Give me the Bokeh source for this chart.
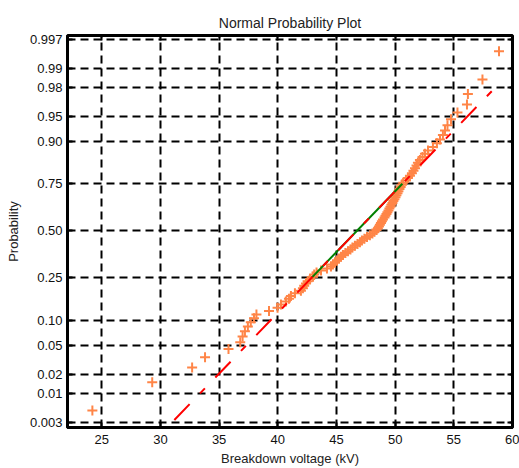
from statistics import NormalDist
import numpy as np
from bokeh.plotting import figure
from bokeh.models import Range1d, FixedTicker, LinearAxis
from bokeh.embed import file_html
from bokeh.resources import INLINE

# Sorted breakdown voltages (kV), n = 100
voltage_kv = [
    24.2, 29.3, 32.7, 33.8, 35.8, 36.8, 37.0, 37.2, 37.45, 37.7,
    37.97, 38.18, 39.25, 39.98, 40.27, 40.69, 40.95, 41.12, 41.46, 41.97,
    42.14, 42.25, 42.40, 42.54, 42.75, 43.0, 43.1, 43.3, 43.68, 44.19,
    44.53, 44.70, 44.87, 45.04, 45.21, 45.38, 45.55, 45.76, 45.98, 46.19,
    46.36, 46.57, 46.79, 47.0, 47.17, 47.38, 47.6, 47.85, 48.06, 48.24,
    48.41, 48.53, 48.62, 48.7, 48.79, 48.87, 48.96, 49.09, 49.17, 49.26,
    49.34, 49.43, 49.51, 49.6, 49.68, 49.77, 49.85, 49.94, 50.03, 50.11,
    50.2, 50.28, 50.37, 50.47, 50.55, 50.68, 50.92, 51.09, 51.26, 51.43,
    51.56, 51.69, 51.82, 51.94, 52.11, 52.33, 52.54, 52.8, 53.22, 53.56,
    53.82, 54.07, 54.25, 54.46, 54.76, 55.31, 56.12, 56.2, 57.44, 58.85,
]
x_ticks = [25, 30, 35, 40, 45, 50, 55, 60]
prob_ticks = [0.003, 0.01, 0.02, 0.05, 0.10, 0.25, 0.50, 0.75, 0.90, 0.95, 0.98, 0.99, 0.997]
prob_labels = ["0.003", "0.01", "0.02", "0.05", "0.10", "0.25", "0.50", "0.75",
               "0.90", "0.95", "0.98", "0.99", "0.997"]

nd = NormalDist()
xs = np.sort(np.array(voltage_kv))
n = len(xs)
probs = (np.arange(1, n + 1) - 0.5) / n
zs = np.array([nd.inv_cdf(p) for p in probs])

q1 = float(np.interp(0.25, probs, xs))
q3 = float(np.interp(0.75, probs, xs))
z25, z75 = nd.inv_cdf(0.25), nd.inv_cdf(0.75)
sigma = (q3 - q1) / (z75 - z25)
mu = (q1 + q3) / 2
line_x = [float(xs.min()), float(xs.max())]
line_z = [(v - mu) / sigma for v in line_x]

z_ticks = [nd.inv_cdf(p) for p in prob_ticks]
overrides = {zt: lab for zt, lab in zip(z_ticks, prob_labels)}

FONT = "Liberation Sans"
p = figure(width=519, height=468, output_backend="svg", toolbar_location=None,
           x_range=Range1d(22.08, 60), y_range=Range1d(-2.82, 2.80),
           min_border_left=67, min_border_right=7, min_border_top=35, min_border_bottom=40,
           title="Normal Probability Plot")
p.background_fill_color = "white"
p.border_fill_color = "white"
p.outline_line_color = "black"
p.outline_line_width = 3

p.title.align = "center"
p.title.offset = -6
p.title.text_font = FONT
p.title.text_font_size = "14px"
p.title.text_font_style = "normal"
p.title.text_color = "#222222"

p.xaxis.ticker = FixedTicker(ticks=x_ticks)
p.yaxis.ticker = FixedTicker(ticks=z_ticks)
p.yaxis.major_label_overrides = overrides
p.xaxis.axis_label = "Breakdown voltage (kV)"
p.yaxis.axis_label = "Probability"
for ax in (p.xaxis, p.yaxis):
    ax.axis_line_color = "black"
    ax.axis_line_width = 3
    ax.major_tick_in = 5
    ax.major_tick_out = 0
    ax.major_tick_line_width = 2
    ax.minor_tick_line_color = None
    ax.major_label_text_font = FONT
    ax.major_label_text_font_size = "13px"
    ax.major_label_text_color = "#111111"
    ax.axis_label_text_font = FONT
    ax.axis_label_text_font_size = "13px"
    ax.axis_label_text_font_style = "normal"
    ax.axis_label_text_color = "#222222"
p.xaxis.major_label_standoff = 7
p.yaxis.major_label_standoff = 5
p.xaxis.axis_label_standoff = 4
p.yaxis.axis_label_standoff = 6

for side, tk in (("right", z_ticks), ("above", x_ticks)):
    ax = LinearAxis(ticker=FixedTicker(ticks=tk), major_label_text_font_size="0px",
                    major_label_text_alpha=0, major_label_standoff=0,
                    major_tick_in=5, major_tick_out=0, major_tick_line_width=2,
                    minor_tick_line_color=None, axis_line_color=None)
    p.add_layout(ax, side)

for g in (p.xgrid, p.ygrid):
    g.grid_line_color = "black"
    g.grid_line_width = 2
    g.grid_line_dash = "8 5"
    g.grid_line_alpha = 1.0

p.scatter(xs, zs, marker="cross", size=10, line_width=2, line_color="#FF8547")
p.line([q1, q3], [z25, z75], line_color="#008000", line_width=2)
p.line(line_x, line_z, line_color="#FF0000", line_width=2, line_dash="22 15 7 15")

open("out.html", "w").write(file_html(p, INLINE))
